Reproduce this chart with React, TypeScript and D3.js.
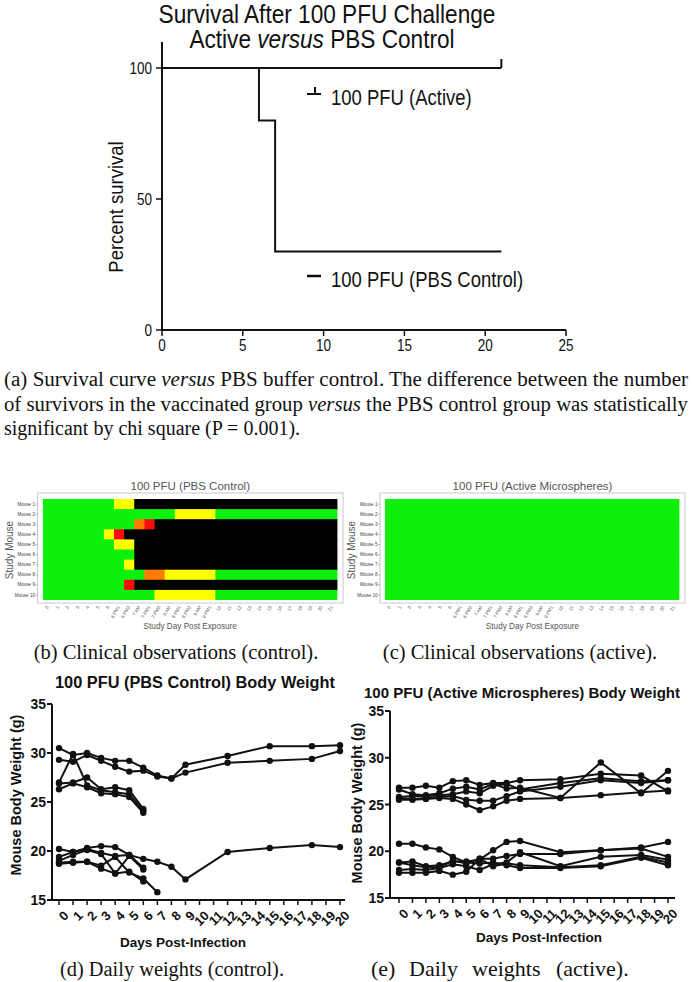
import React from "react";
import * as d3 from "d3";

// ---------- DATA ----------
const survivalTicksX = [0, 5, 10, 15, 20, 25];
const survivalTicksY = [0, 50, 100];
const activeSurvivalDays = [0, 21];
const activeSurvivalPct = [100, 100];
const controlSurvivalDays = [0, 6, 7, 21];
const controlSurvivalPct = [100, 80, 30, 30];

const obsColumns = [
  "0", "1", "2", "3", "4", "5", "6",
  "6 PM1", "6 PM2", "7 AM", "7 PM1", "7 PM2", "8 AM", "8 PM1", "8 PM2", "9 AM", "9 PM1",
  "10", "11", "12", "13", "14", "15", "16", "17", "18", "19", "20", "21",
];
const mice = ["Mouse 1", "Mouse 2", "Mouse 3", "Mouse 4", "Mouse 5", "Mouse 6", "Mouse 7", "Mouse 8", "Mouse 9", "Mouse 10"];
// run-length encoded clinical scores: G normal, Y mild, O moderate, R severe, K dead
const controlObsRuns: [string, number][][] = [
  [["G", 7], ["Y", 2], ["K", 20]],
  [["G", 13], ["Y", 4], ["G", 12]],
  [["G", 9], ["O", 1], ["R", 1], ["K", 18]],
  [["G", 6], ["Y", 1], ["R", 1], ["K", 21]],
  [["G", 7], ["Y", 2], ["K", 20]],
  [["G", 9], ["K", 20]],
  [["G", 8], ["Y", 1], ["K", 20]],
  [["G", 10], ["O", 2], ["Y", 5], ["G", 12]],
  [["G", 8], ["R", 1], ["K", 20]],
  [["G", 11], ["Y", 6], ["G", 12]],
];
const activeObsRuns: [string, number][][] = [
  [["G", 29]], [["G", 29]], [["G", 29]], [["G", 29]], [["G", 29]],
  [["G", 29]], [["G", 29]], [["G", 29]], [["G", 29]], [["G", 29]],
];
const obsColors: Record<string, string> = { G: "#0cf00c", Y: "#ffff00", O: "#ff7a00", R: "#ff0a0a", K: "#000000" };

const weightDays = [0, 1, 2, 3, 4, 5, 6, 7, 8, 9, 12, 15, 18, 20];
const weightTicksY = [15, 20, 25, 30, 35];
const weightTicksX = [0, 1, 2, 3, 4, 5, 6, 7, 8, 9, 10, 11, 12, 13, 14, 15, 16, 17, 18, 19, 20];
const N = null;
const controlWeights: (number | null)[][] = [
  [30.5, 29.8, 30.0, 29.5, 29.2, 29.2, 28.5, 27.7, 27.4, 28.8, 29.7, 30.7, 30.7, 30.8],
  [29.3, 29.1, 29.8, 29.2, 28.6, 28.1, 28.2, 27.6, 27.4, 28.0, 29.0, 29.2, 29.4, 30.2],
  [27.0, 29.9, 26.7, 26.2, 26.0, 25.8, 24.1, N, N, N, N, N, N, N],
  [26.9, 27.0, 27.5, 26.3, 26.5, 26.2, 24.3, N, N, N, N, N, N, N],
  [26.3, 26.9, 26.5, 25.9, 25.8, 25.5, 23.9, N, N, N, N, N, N, N],
  [19.4, 19.9, 20.2, 19.8, 19.5, 19.6, 19.2, 18.9, 18.4, 17.1, 19.9, 20.3, 20.6, 20.4],
  [20.2, 19.9, 20.3, 20.5, 20.4, 19.6, 18.3, N, N, N, N, N, N, N],
  [19.0, 19.6, 20.1, 19.7, 17.7, 19.5, 18.1, N, N, N, N, N, N, N],
  [18.8, 18.9, 18.9, 18.5, 19.4, 17.8, 17.2, 15.8, N, N, N, N, N, N],
  [18.7, 18.8, 18.9, 18.2, 17.7, 17.9, 16.9, N, N, N, N, N, N, N],
];
const activeWeights: (number | null)[][] = [
  [26.8, 26.8, 27.0, 26.8, 27.5, 27.6, 27.1, 27.3, 27.3, 27.6, 27.7, 28.3, 28.1, 26.4],
  [26.6, 26.1, 26.0, 26.2, 26.7, 26.9, 26.6, 27.2, 26.7, 26.8, 25.7, 29.5, 26.2, 28.6],
  [25.8, 25.9, 25.9, 26.0, 26.1, 26.4, 26.2, 27.0, 27.2, 26.6, 27.3, 27.8, 27.5, 27.6],
  [25.7, 25.6, 25.7, 25.8, 25.9, 25.5, 25.4, 25.4, 25.9, 26.4, 26.9, 27.6, 27.3, 27.6],
  [25.5, 25.5, 25.6, 25.7, 25.6, 25.0, 24.4, 24.8, 25.4, 25.6, 25.7, 26.0, 26.3, 26.5],
  [20.8, 20.8, 20.4, 20.2, 19.4, 18.8, 18.7, 18.8, 18.5, 18.2, 18.2, 18.4, 19.3, 18.5],
  [18.8, 18.9, 18.4, 18.5, 18.9, 18.9, 19.1, 20.1, 21.0, 21.1, 19.9, 20.1, 20.4, 21.0],
  [18.8, 18.5, 18.3, 18.3, 19.0, 18.7, 19.2, 19.2, 19.5, 19.7, 19.7, 20.1, 20.3, 19.4],
  [18.0, 18.1, 18.0, 18.2, 18.6, 18.4, 18.0, 18.6, 18.8, 19.9, 18.4, 19.4, 19.6, 19.1],
  [17.7, 17.7, 17.7, 17.9, 17.5, 17.8, 19.2, 18.4, 18.7, 18.5, 18.3, 18.5, 19.4, 18.8],
];

// ---------- STYLE ----------
const SANS = "'Liberation Sans', Arial, sans-serif";
const SERIF = "'Liberation Serif', 'Times New Roman', serif";

function Narrow(props: { x: number; y: number; size: number; sx?: number; anchor?: string; rotate?: number; children: React.ReactNode }) {
  const { x, y, size, sx = 0.82, anchor = "start", rotate = 0, children } = props;
  return (
    <text transform={`translate(${x},${y}) rotate(${rotate}) scale(${sx},1)`} fontSize={size} textAnchor={anchor}>{children}</text>
  );
}

function Survival() {
  const sx = d3.scaleLinear().domain([0, 25]).range([162, 566]);
  const sy = d3.scaleLinear().domain([0, 100]).range([330, 68]);
  const step = d3.line<[number, number]>().x((d) => sx(d[0])).y((d) => sy(d[1])).curve(d3.curveStepAfter);
  const activePts = activeSurvivalDays.map((d, i) => [d, activeSurvivalPct[i]] as [number, number]);
  const controlPts = controlSurvivalDays.map((d, i) => [d, controlSurvivalPct[i]] as [number, number]);
  const lastA = activePts[activePts.length - 1];
  return (
    <g fontFamily={SANS} fill="#111">
      <Narrow x={327} y={23} size={26} sx={0.87} anchor="middle">Survival After 100 PFU Challenge</Narrow>
      <Narrow x={322} y={48} size={26} sx={0.87} anchor="middle">
        Active <tspan fontStyle="italic">versus</tspan> PBS Control
      </Narrow>
      <line x1={sx(0)} x2={sx(0)} y1={42} y2={sy(0)} stroke="#111" strokeWidth={2} />
      <line x1={sx(0)} x2={sx(25)} y1={sy(0)} y2={sy(0)} stroke="#111" strokeWidth={2} />
      {survivalTicksY.map((t) => (
        <g key={t}>
          <line x1={sx(0) - 6} x2={sx(0)} y1={sy(t)} y2={sy(t)} stroke="#111" strokeWidth={1.5} />
          <Narrow x={sx(0) - 10} y={sy(t) + 6} size={16.5} anchor="end">{t}</Narrow>
        </g>
      ))}
      {survivalTicksX.map((t) => (
        <g key={t}>
          <line x1={sx(t)} x2={sx(t)} y1={sy(0)} y2={sy(0) + 6} stroke="#111" strokeWidth={1.5} />
          <Narrow x={sx(t)} y={sy(0) + 21} size={16.5} anchor="middle">{t}</Narrow>
        </g>
      ))}
      <Narrow x={123} y={207} size={21} sx={0.88} anchor="middle" rotate={-90}>Percent survival</Narrow>
      <path d={step(controlPts) || ""} fill="none" stroke="#111" strokeWidth={2} />
      <path d={step(activePts) || ""} fill="none" stroke="#111" strokeWidth={2} />
      <line x1={sx(lastA[0])} x2={sx(lastA[0])} y1={sy(lastA[1])} y2={sy(lastA[1]) - 9} stroke="#111" strokeWidth={2} />
      {/* legend */}
      <line x1={307} x2={321} y1={94} y2={94} stroke="#111" strokeWidth={2} />
      <line x1={315} x2={315} y1={87} y2={94} stroke="#111" strokeWidth={2} />
      <Narrow x={331} y={105} size={21.5} sx={0.86}>100 PFU (Active)</Narrow>
      <line x1={307} x2={321} y1={276} y2={276} stroke="#111" strokeWidth={2.5} />
      <Narrow x={331} y={287} size={21.5} sx={0.86}>100 PFU (PBS Control)</Narrow>
    </g>
  );
}

function Heatmap(props: {
  runs: [string, number][][]; title: string; frame: [number, number, number, number];
  cells: [number, number, number, number]; labelX: number;
}) {
  const { runs, title, frame, cells, labelX } = props;
  const bx = d3.scaleBand<string>().domain(obsColumns).range([cells[0], cells[2]]);
  const by = d3.scaleBand<string>().domain(mice).range([cells[1], cells[3]]);
  const rects: JSX.Element[] = [];
  runs.forEach((row, r) => {
    let c = 0;
    row.forEach(([code, n], k) => {
      const x0 = bx(obsColumns[c])!;
      const x1 = bx(obsColumns[c + n - 1])! + bx.bandwidth();
      const last = r === runs.length - 1;
      rects.push(<rect key={`${r}-${k}`} x={x0} y={by(mice[r])!} width={x1 - x0 + 0.4} height={by.bandwidth() + (last ? 0 : 1)} fill={obsColors[code]} />);
      c += n;
    });
  });
  const cx = (frame[0] + frame[2]) / 2;
  return (
    <g fontFamily={SANS}>
      <text x={cx} y={490} fontSize={11.5} fill="#555" textAnchor="middle">{title}</text>
      <rect x={frame[0]} y={frame[1]} width={frame[2] - frame[0]} height={frame[3] - frame[1]} fill="#fff" stroke="#c8c8c8" strokeWidth={1} />
      {rects}
      {mice.map((m) => (
        <g key={m}>
          <line x1={frame[0] - 2} x2={frame[0]} y1={by(m)! + by.bandwidth() / 2} y2={by(m)! + by.bandwidth() / 2} stroke="#777" strokeWidth={0.5} />
          <text x={frame[0] - 2.5} y={by(m)! + by.bandwidth() / 2 + 1.6} fontSize={4.6} fill="#444" textAnchor="end">{m}</text>
        </g>
      ))}
      {obsColumns.map((c) => (
        <text key={c} transform={`translate(${bx(c)! + bx.bandwidth() / 2 + 1},${frame[3] + 4}) rotate(-60)`} fontSize={4.6} fill="#555" textAnchor="end">{c}</text>
      ))}
      <text transform={`translate(${labelX},550) rotate(-90)`} fontSize={10} fill="#555" textAnchor="middle">Study Mouse</text>
      <text x={cx} y={629} fontSize={8.2} fill="#555" textAnchor="middle">Study Day Post Exposure</text>
    </g>
  );
}

function WeightChart(props: {
  series: (number | null)[][]; title: string; titleX: number; titleY: number; titleLen: number; titleSize: number;
  axisX: number; axisRight: number; xr: [number, number]; yr: [number, number];
  ylabelX: number; ylabelY: number; xlabelX: number; xlabelY: number;
}) {
  const { series, title, titleX, titleY, titleLen, titleSize, axisX, axisRight, xr, yr, ylabelX, ylabelY, xlabelX, xlabelY } = props;
  const x = d3.scaleLinear().domain([0, 20]).range(xr);
  const y = d3.scaleLinear().domain([15, 35]).range(yr);
  const line = d3.line<number | null>()
    .defined((d) => d != null)
    .x((_, i) => x(weightDays[i]))
    .y((d) => y(d as number));
  return (
    <g fontFamily={SANS} fontWeight="bold" fill="#111">
      <text x={titleX} y={titleY} fontSize={titleSize} textAnchor="middle" textLength={titleLen} lengthAdjust="spacingAndGlyphs">{title}</text>
      <line x1={axisX} x2={axisX} y1={y(35)} y2={y(15)} stroke="#111" strokeWidth={2} />
      <line x1={axisX} x2={axisRight} y1={y(15)} y2={y(15)} stroke="#111" strokeWidth={2} />
      {weightTicksY.map((t) => (
        <g key={t}>
          <line x1={axisX - 5} x2={axisX} y1={y(t)} y2={y(t)} stroke="#111" strokeWidth={2} />
          <text x={axisX - 6} y={y(t) + 5} fontSize={14} textAnchor="end">{t}</text>
        </g>
      ))}
      {weightTicksX.map((t) => (
        <g key={t}>
          <line x1={x(t)} x2={x(t)} y1={y(15)} y2={y(15) + 5} stroke="#111" strokeWidth={1.5} />
          <text transform={`translate(${x(t) + 4},${y(15) + 10}) rotate(-45)`} fontSize={13} textAnchor="end" dy="0.7em">{t}</text>
        </g>
      ))}
      <text transform={`translate(${ylabelX},${ylabelY}) rotate(-90)`} fontSize={14.5} textAnchor="middle">Mouse Body Weight (g)</text>
      <text x={xlabelX} y={xlabelY} fontSize={13} textAnchor="middle" textLength={126} lengthAdjust="spacingAndGlyphs">Days Post-Infection</text>
      {series.map((s, i) => (
        <g key={i}>
          <path d={line(s) || ""} fill="none" stroke="#111" strokeWidth={2} />
          {s.map((v, j) => (v == null ? null : <circle key={j} cx={x(weightDays[j])} cy={y(v)} r={3.2} fill="#111" />))}
        </g>
      ))}
    </g>
  );
}

export default function App() {
  return (
    <svg width={692} height={982} viewBox="0 0 692 982" style={{ position: "absolute", left: 0, top: 0, background: "#fff" }}>
      <rect x={0} y={0} width={692} height={982} fill="#fff" />
      <Survival />
      <g fontFamily={SERIF} fontSize={20} fill="#111">
        <text x={4} y={386} textLength={684} lengthAdjust="spacingAndGlyphs">
          (a)  Survival curve <tspan fontStyle="italic">versus</tspan> PBS buffer control. The difference between the number
        </text>
        <text x={4} y={411} textLength={684} lengthAdjust="spacingAndGlyphs">
          of survivors in the vaccinated group <tspan fontStyle="italic">versus</tspan> the PBS control group was statistically
        </text>
        <text x={4} y={435}>significant by chi square (P =  0.001).</text>
      </g>
      <Heatmap runs={controlObsRuns} title="100 PFU (PBS Control)" frame={[37.5, 493, 343, 603]} cells={[43, 499, 337, 600]} labelX={13} />
      <Heatmap runs={activeObsRuns} title="100 PFU (Active Microspheres)" frame={[380, 493, 685, 603]} cells={[385, 499, 679, 600]} labelX={355} />
      <g fontFamily={SERIF} fontSize={20.5} fill="#111">
        <text x={176} y={659} textAnchor="middle">(b) Clinical observations (control).</text>
        <text x={520} y={659} textAnchor="middle">(c) Clinical observations (active).</text>
        <text x={60} y={976} fontSize={20} textLength={224} lengthAdjust="spacingAndGlyphs">(d) Daily weights (control).</text>
        <text y={976} fontSize={22}>
          <tspan x={371}>(e)</tspan>
          <tspan x={409}>Daily</tspan>
          <tspan x={472}>weights</tspan>
          <tspan x={556}>(active).</tspan>
        </text>
      </g>
      <WeightChart series={controlWeights} title="100 PFU (PBS Control) Body Weight" titleX={195} titleY={688} titleLen={280} titleSize={16}
        axisX={52} axisRight={345} xr={[59, 340]} yr={[900, 704]} ylabelX={21} ylabelY={795} xlabelX={183} xlabelY={947} />
      <WeightChart series={activeWeights} title="100 PFU (Active Microspheres) Body Weight" titleX={522} titleY={698} titleLen={316} titleSize={15}
        axisX={390} axisRight={675} xr={[399, 668]} yr={[898, 711]} ylabelX={362} ylabelY={803} xlabelX={539} xlabelY={942} />
    </svg>
  );
}
